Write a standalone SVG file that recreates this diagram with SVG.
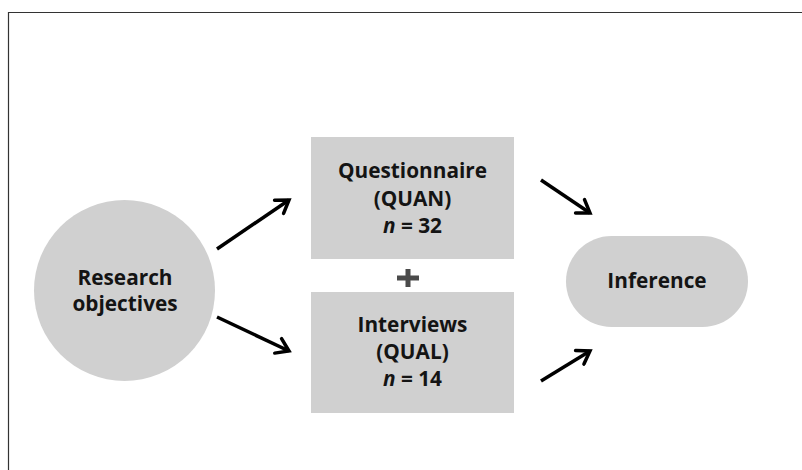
<svg xmlns="http://www.w3.org/2000/svg" width="802" height="470" viewBox="0 0 802 470">
<defs>
<style>
.node{fill:#d0d0d0;}
.lbl{font-family:"Open Sans","Noto Sans","Liberation Sans",sans-serif;font-weight:bold;font-size:20.8px;fill:#141414;text-anchor:middle;}
.arrow{stroke:#000;stroke-width:3.5;fill:none;stroke-linecap:butt;marker-end:url(#head);}
</style>
<marker id="head" markerUnits="userSpaceOnUse" viewBox="-16 -10 20 20" refX="0" refY="0" markerWidth="20" markerHeight="20" orient="auto">
<path d="M-12,-8 L0,0 L-12,8" fill="none" stroke="#000" stroke-width="3.5" stroke-linejoin="miter" stroke-linecap="round"/>
</marker>
</defs>
<rect width="802" height="470" fill="#fff"/>
<path d="M8.5,470 V12.5 H802" fill="none" stroke="#333" stroke-width="1.2"/>
<g id="research">
<circle class="node" cx="124.5" cy="290.5" r="90.5"/>
<text class="lbl" x="125" y="285"><tspan x="125">Research</tspan><tspan x="125" y="311">objectives</tspan></text>
</g>
<g id="questionnaire">
<rect class="node" x="311" y="137" width="203" height="122"/>
<text class="lbl" x="412.5" y="178">Questionnaire</text>
<text class="lbl" x="412.5" y="206">(QUAN)</text>
<text class="lbl" x="412.5" y="233"><tspan font-style="italic">n</tspan> = 32</text>
</g>
<g id="plus">
<rect x="397" y="275.5" width="22" height="5" fill="#4a4a4a"/>
<rect x="405.5" y="269" width="5" height="18" fill="#4a4a4a"/>
</g>
<g id="interviews">
<rect class="node" x="311" y="292" width="203" height="121"/>
<text class="lbl" x="412.5" y="332">Interviews</text>
<text class="lbl" x="412.5" y="359">(QUAL)</text>
<text class="lbl" x="412.5" y="386"><tspan font-style="italic">n</tspan> = 14</text>
</g>
<g id="inference">
<rect class="node" x="566" y="236" width="182" height="91" rx="45.5" ry="45.5"/>
<text class="lbl" x="657" y="288">Inference</text>
</g>
<g id="connectors">
<line class="arrow" x1="217" y1="249" x2="289" y2="200"/>
<line class="arrow" x1="541" y1="180" x2="590" y2="213"/>
<line class="arrow" x1="217" y1="317" x2="289" y2="351"/>
<line class="arrow" x1="541" y1="381" x2="590" y2="351"/>
</g>
</svg>
